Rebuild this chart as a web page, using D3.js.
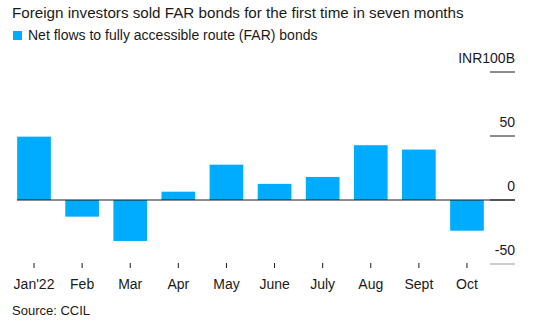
<!DOCTYPE html>
<html>
<head>
<meta charset="utf-8">
<script src="https://cdn.jsdelivr.net/npm/d3@7"></script>
<style>
  body { margin: 0; background: #fff; }
  text { font-family: "Liberation Sans", Arial, Helvetica, sans-serif; fill: #1a1a1a; }
</style>
</head>
<body>
<div id="chart"></div>
<script>
const months = ["Jan'22", "Feb", "Mar", "Apr", "May", "June", "July", "Aug", "Sept", "Oct"]
const netFlows = [49.5, -13, -32, 6.5, 27.6, 12.6, 18, 42.8, 39.4, -24]
const yTicks = [100, 50, 0, -50]
const tickLabels = ["INR100B", "50", "0", "-50"]

const W = 548, H = 332
const svg = d3.select("#chart")
              .append("svg")
              .attr("width", W)
              .attr("height", H)

svg.append("text")
   .attr("x", 12)
   .attr("y", 18)
   .style("font-size", "15.2px")
   .text("Foreign investors sold FAR bonds for the first time in seven months")

svg.append("rect")
   .attr("x", 13).attr("y", 31)
   .attr("width", 9).attr("height", 9)
   .attr("fill", "#00acff")

svg.append("text")
   .attr("x", 28)
   .attr("y", 40)
   .style("font-size", "14px")
   .text("Net flows to fully accessible route (FAR) bonds")

const x = d3.scaleBand()
            .domain(months)
            .range([9, 492])
            .paddingInner(0.3)
            .paddingOuter(0.17)

const y = d3.scaleLinear()
            .domain([-50, 100])
            .range([264, 72])

// right-hand gridline stubs and labels
const ticks = svg.append("g")
yTicks.forEach((t, i) => {
    ticks.append("line")
         .attr("x1", 490).attr("x2", 515)
         .attr("y1", y(t)).attr("y2", y(t))
         .attr("stroke", t === -50 ? "#999" : "#1a1a1a")
         .attr("stroke-width", 1)
    ticks.append("text")
         .attr("x", 515)
         .attr("y", y(t) - 9)
         .attr("text-anchor", "end")
         .style("font-size", "14px")
         .text(tickLabels[i])
})

svg.append("g")
   .selectAll("rect")
   .data(months)
   .join("rect")
   .attr("x", d => x(d))
   .attr("width", x.bandwidth())
   .attr("y", (d, i) => y(Math.max(0, netFlows[i])))
   .attr("height", (d, i) => Math.abs(y(netFlows[i]) - y(0)))
   .attr("fill", "#00acff")

// zero line
svg.append("line")
   .attr("x1", 17).attr("x2", 515)
   .attr("y1", y(0)).attr("y2", y(0))
   .attr("stroke", "#1a1a1a")
   .attr("stroke-width", 1)

// x axis
const xAxis = svg.append("g")
                 .attr("transform", "translate(0,263)")
                 .call(d3.axisBottom(x).tickSize(5).tickPadding(11))
xAxis.select(".domain").remove()
xAxis.selectAll("line").attr("stroke", "#1a1a1a")
xAxis.selectAll("text")
     .style("font-size", "14px")
     .attr("fill", "#1a1a1a")

svg.append("text")
   .attr("x", 12)
   .attr("y", 315)
   .style("font-size", "13px")
   .attr("fill", "#333")
   .text("Source: CCIL")
</script>
</body>
</html>
